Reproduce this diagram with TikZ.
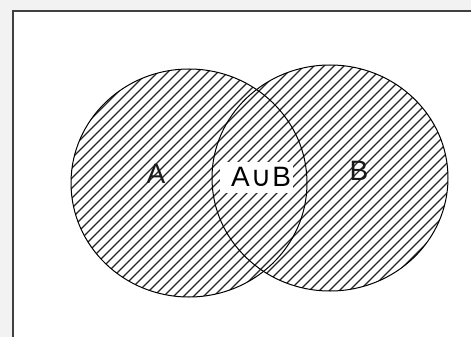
\documentclass[tikz,border=0pt]{standalone}
\usepackage{fontspec}
\setmainfont{Liberation Sans}
\newfontfamily\symfont{DejaVu Sans}
\usetikzlibrary{shapes.geometric}
\begin{document}
\begin{tikzpicture}[x=1pt,y=-1pt,
  setcircle/.style={draw=black,line width=1pt,ellipse,inner sep=0pt},
  hatch/.style={draw=black!85,line width=1.1pt},
  lbl/.style={inner sep=0pt,font=\fontsize{28}{28}\selectfont}]
\useasboundingbox (0,0) rectangle (471,337);
\fill[gray!10] (0,0) rectangle (471,337);
\fill[white] (13,11) rectangle (471,337);
\draw[black!75,line width=1.5pt] (13,340) -- (13,11) -- (474,11);
\begin{scope}
  \clip (189,183) ellipse [x radius=118,y radius=114] (330,178) ellipse [x radius=118,y radius=113];
  \foreach \c in {100,110,...,800}{
    \draw[hatch] (\c-300,300) -- (\c,0);
  }
\end{scope}
\node[setcircle,minimum width=236pt,minimum height=228pt] (A) at (189,183) {};
\node[setcircle,minimum width=236pt,minimum height=226pt] (B) at (330,178) {};
\fill[white] (220,162) rectangle (293,193);
\node[lbl] (u) at (261,177) {A\hspace{1pt}{\symfont ∪}\hspace{1pt}B};
\node[lbl,text=black!90] (a) at (156,174) {A};
\node[lbl,text=black!90] (b) at (359,171) {B};
\end{tikzpicture}
\end{document}
